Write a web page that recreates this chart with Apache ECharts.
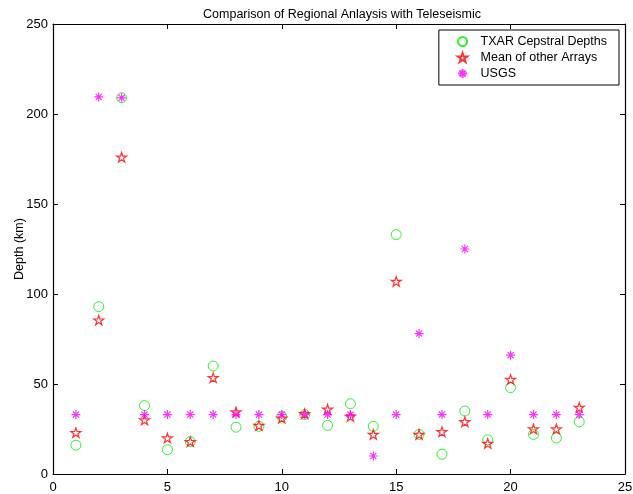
<!DOCTYPE html>
<html>
<head>
<meta charset="utf-8">
<script src="https://cdn.jsdelivr.net/npm/echarts@6/dist/echarts.min.js"></script>
<style>
  html, body { margin: 0; padding: 0; background: #fff; }
  #chart { width: 633px; height: 494px; }
</style>
</head>
<body>
<div id="chart"></div>
<script>
// Event index along the x axis
const events = [1, 2, 3, 4, 5, 6, 7, 8, 9, 10, 11, 12, 13, 14, 15, 16, 17, 18, 19, 20, 21, 22, 23];

// Depth estimates (km)
const txarDepths = [16, 93, 209, 38, 13.5, 18, 60, 26, 26.5, 32, 33, 27, 39, 26.5, 133, 22, 11, 35, 19, 48, 22, 20, 29];
const arrayMeans = [23, 85.5, 176, 30, 20, 18, 53.5, 34.5, 27, 31, 33.5, 36, 32, 22, 107, 22, 23.5, 29, 17, 52.5, 25, 25, 37];
const usgsDepths = [33, 209.5, 209, 33, 33, 33, 33, 33, 33, 33, 33, 33, 33, 10, 33, 78, 33, 125, 33, 66, 33, 33, 33];

const xTicks = [0, 5, 10, 15, 20, 25];
const yTicks = [0, 50, 100, 150, 200, 250];

const pairs = (vals) => events.map((e, i) => [e, vals[i]]);

const starPath = 'path://M100 0 L122.45 69.1 L195.1 69.1 L136.3 111.8 L158.8 180.9 L100 138.2 L41.2 180.9 L63.7 111.8 L4.9 69.1 L77.55 69.1 Z';
const asteriskPath = 'path://M0 5 L10 5 M5 0 L5 10 M1.6 1.6 L8.4 8.4 M1.6 8.4 L8.4 1.6';

const font = 'Liberation Sans, Arial, Helvetica, sans-serif';

const axisCommon = {
  axisLine: { show: true, onZero: false, lineStyle: { color: '#000', width: 1.2 } },
  axisTick: { show: true, inside: true, length: 5, lineStyle: { color: '#000' } },
  splitLine: { show: false }
};

const chart = echarts.init(document.getElementById('chart'), null, { renderer: 'canvas' });

chart.setOption({
  animation: false,
  backgroundColor: '#fff',
  title: {
    text: 'Comparison of Regional Anlaysis with Teleseismic',
    left: 337, textAlign: 'center', top: 3,
    textStyle: { fontFamily: font, fontSize: 12.5, fontWeight: 'normal', color: '#000' }
  },
  grid: { left: 53, top: 24, right: 8, bottom: 20, containLabel: false, outerBoundsMode: 'none' },
  legend: {
    right: 14, top: 30,
    orient: 'vertical',
    itemGap: 3,
    itemWidth: 10, itemHeight: 9,
    padding: [5, 12, 5, 18],
    borderColor: '#000', borderWidth: 1,
    backgroundColor: '#fff',
    textStyle: { fontFamily: font, fontSize: 12.5, color: '#000', padding: [0, 0, 0, 8] },
    data: ['TXAR Cepstral Depths', 'Mean of other Arrays', 'USGS']
  },
  xAxis: [
    Object.assign({
      type: 'value', min: 0, max: 25, interval: 5, position: 'bottom',
      axisLabel: { fontFamily: font, fontSize: 13, color: '#000', margin: 7,
        formatter: (v) => xTicks.includes(v) ? String(v) : '' }
    }, axisCommon),
    Object.assign({
      type: 'value', min: 0, max: 25, interval: 5, position: 'top',
      axisLabel: { show: false }
    }, axisCommon)
  ],
  yAxis: [
    Object.assign({
      type: 'value', min: 0, max: 250, interval: 50, position: 'left',
      name: 'Depth (km)', nameLocation: 'middle', nameGap: 27, nameMoveOverlap: false,
      nameTextStyle: { fontFamily: font, fontSize: 12.5, color: '#000' },
      axisLabel: { fontFamily: font, fontSize: 13, color: '#000', margin: 5,
        formatter: (v) => yTicks.includes(v) ? String(v) : '' }
    }, axisCommon),
    Object.assign({
      type: 'value', min: 0, max: 250, interval: 50, position: 'right',
      axisLabel: { show: false }
    }, axisCommon)
  ],
  series: [
    {
      name: 'TXAR Cepstral Depths', type: 'scatter',
      data: pairs(txarDepths),
      symbol: 'circle', symbolSize: 10,
      itemStyle: { color: 'rgba(0,0,0,0)', borderColor: '#00ee00', borderWidth: 1 },
      z: 3
    },
    {
      name: 'Mean of other Arrays', type: 'scatter',
      data: pairs(arrayMeans),
      symbol: starPath, symbolSize: 10, symbolKeepAspect: true,
      itemStyle: { color: 'rgba(0,0,0,0)', borderColor: '#ff0000', borderWidth: 1.2 },
      z: 4
    },
    {
      name: 'USGS', type: 'scatter',
      data: pairs(usgsDepths),
      symbol: asteriskPath, symbolSize: 9, symbolKeepAspect: true,
      itemStyle: { color: 'rgba(0,0,0,0)', borderColor: '#ff00ff', borderWidth: 1.2 },
      z: 5
    }
  ]
});
</script>
</body>
</html>
